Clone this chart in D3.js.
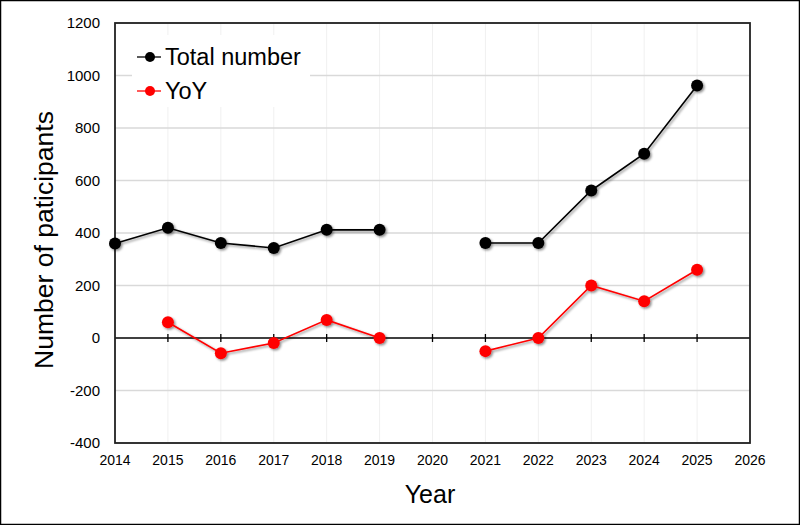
<!DOCTYPE html>
<html><head><meta charset="utf-8">
<script src="https://cdn.jsdelivr.net/npm/d3@7"></script>
<style>body{margin:0;background:#fff}svg{display:block}text{font-family:Arial,"Liberation Sans",sans-serif}</style>
</head><body>
<script>
const years = [2014,2015,2016,2017,2018,2019,2020,2021,2022,2023,2024,2025];
const totalNumber = [360,420,362,343,412,412,null,362,362,562,702,962];
const yoy = [null,60,-58,-19,69,0,null,-50,0,200,140,260];
const yTicks = [-400,-200,0,200,400,600,800,1000,1200];
const xTicks = [2014,2015,2016,2017,2018,2019,2020,2021,2022,2023,2024,2025,2026];
const seriesNames = ["Total number","YoY"];
const seriesColors = ["#000000","#ff0000"];

const W=800,H=525;
const svg=d3.select("body").append("svg").attr("width",W).attr("height",H);
const defs=svg.append("defs");
const f=defs.append("filter").attr("id","sh").attr("x","-50%").attr("y","-50%").attr("width","200%").attr("height","200%");
f.append("feDropShadow").attr("dx",1.5).attr("dy",1.5).attr("stdDeviation",1.2).attr("flood-color","#000").attr("flood-opacity",0.45);

svg.append("rect").attr("x",0.5).attr("y",0.5).attr("width",W-1).attr("height",H-1).attr("fill","#fff").attr("stroke","#000").attr("stroke-width",1.5);

const L=115,R=750,T=23,B=443;
const x=d3.scaleLinear().domain([2014,2026]).range([L,R]);
const y=d3.scaleLinear().domain([-400,1200]).range([B,T]);

// grid
svg.append("g").selectAll("line").data(xTicks).join("line")
 .attr("x1",d=>x(d)).attr("x2",d=>x(d)).attr("y1",T).attr("y2",B).attr("stroke","#f0f0f0").attr("stroke-width",1);
svg.append("g").selectAll("line").data(yTicks.filter(d=>d!==0)).join("line")
 .attr("x1",L).attr("x2",R).attr("y1",d=>y(d)).attr("y2",d=>y(d)).attr("stroke","#d9d9d9").attr("stroke-width",1.3);

// y axis labels
svg.append("g").selectAll("text").data(yTicks).join("text")
 .attr("x",100).attr("y",d=>y(d)+5).attr("text-anchor","end").attr("font-size",15).attr("fill","#000").text(d=>d);
// x labels
svg.append("g").selectAll("text").data(xTicks).join("text")
 .attr("x",d=>x(d)).attr("y",B+22).attr("text-anchor","middle").attr("font-size",14).attr("fill","#000").text(d=>d);

// zero axis with ticks
svg.append("line").attr("x1",L).attr("x2",R).attr("y1",y(0)).attr("y2",y(0)).attr("stroke","#000").attr("stroke-width",1.5);
svg.append("g").selectAll("line").data(xTicks.slice(1,-1)).join("line")
 .attr("x1",d=>x(d)).attr("x2",d=>x(d)).attr("y1",y(0)-4).attr("y2",y(0)+4).attr("stroke","#000").attr("stroke-width",1.3);

// frame
svg.append("rect").attr("x",L).attr("y",T).attr("width",R-L).attr("height",B-T).attr("fill","none").attr("stroke","#222").attr("stroke-width",1.8);

// legend
svg.append("rect").attr("x",132).attr("y",35).attr("width",178).attr("height",72).attr("fill","#fff");
const legY=[57,91];
seriesNames.forEach((n,i)=>{
  svg.append("line").attr("x1",137).attr("x2",161).attr("y1",legY[i]).attr("y2",legY[i]).attr("stroke",seriesColors[i]).attr("stroke-width",1.3);
  svg.append("circle").attr("cx",150).attr("cy",legY[i]).attr("r",5).attr("fill",seriesColors[i]);
  svg.append("text").attr("x",165).attr("y",legY[i]+8).attr("font-size",23.5).attr("fill","#000").text(n);
});

// series
[totalNumber,yoy].forEach((vals,i)=>{
  const data=years.map((yr,j)=>({yr,v:vals[j]}));
  const line=d3.line().defined(d=>d.v!==null).x(d=>x(d.yr)).y(d=>y(d.v));
  const g=svg.append("g").attr("filter","url(#sh)");
  g.append("path").attr("d",line(data)).attr("fill","none").attr("stroke",seriesColors[i]).attr("stroke-width",1.6);
  g.selectAll("circle").data(data.filter(d=>d.v!==null)).join("circle")
   .attr("cx",d=>x(d.yr)).attr("cy",d=>y(d.v)).attr("r",6).attr("fill",seriesColors[i]);
});

// axis titles
svg.append("text").attr("x",430).attr("y",503).attr("text-anchor","middle").attr("font-size",25).attr("fill","#000").text("Year");
svg.append("text").attr("transform","translate(53,240) rotate(-90)").attr("text-anchor","middle").attr("font-size",26.5).attr("fill","#000").text("Number of paticipants");
</script>
</body></html>
